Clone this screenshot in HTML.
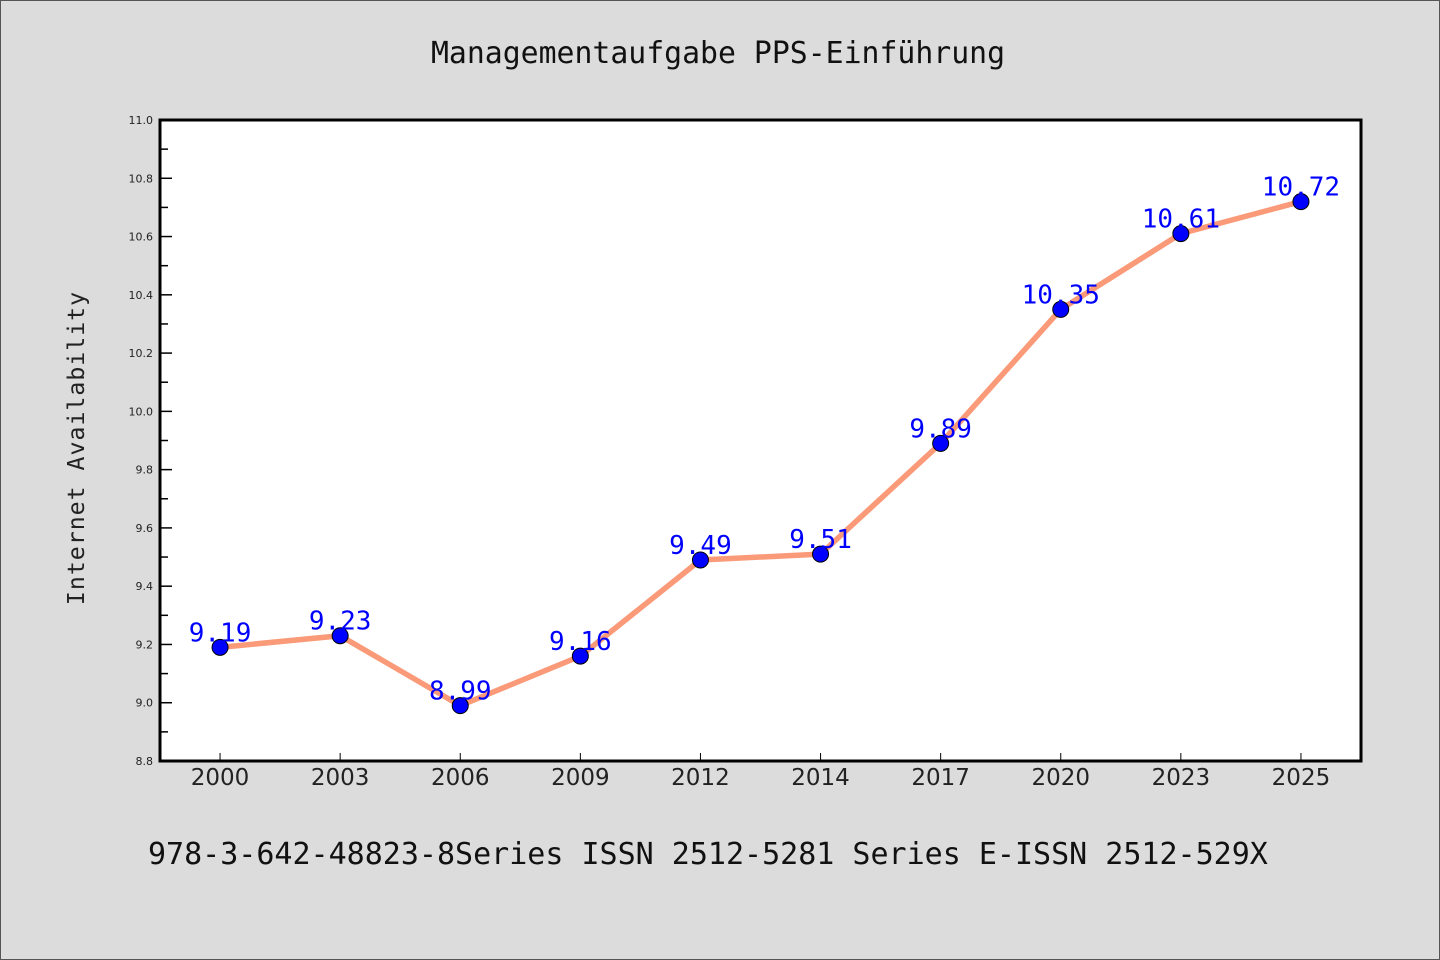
<!DOCTYPE html>
<html><head><meta charset="utf-8"><style>
body{margin:0;background:#dcdcdc}
svg{display:block}
</style></head><body>
<svg width="1440" height="960" xmlns="http://www.w3.org/2000/svg">
<rect x="0.5" y="0.5" width="1439" height="959" fill="#dcdcdc" stroke="#555"/>
<text x="718" y="63" text-anchor="middle" font-family="'WenQuanYi Zen Hei','DejaVu Sans Mono',monospace" font-size="29.8" fill="#111">Managementaufgabe PPS-Einführung</text>
<rect x="160" y="120" width="1201" height="641" fill="#fff"/>
<g id="axes"></g>
<g id="marks"></g>
<rect x="160" y="120" width="1201" height="641" fill="none" stroke="#000" stroke-width="3"/>
<text transform="translate(84,448) rotate(-90)" text-anchor="middle" font-family="'WenQuanYi Zen Hei','DejaVu Sans Mono',monospace" font-size="23.2" fill="#222" letter-spacing="1">Internet Availability</text>
<text x="148" y="864" font-family="'WenQuanYi Zen Hei','DejaVu Sans Mono',monospace" font-size="30" fill="#111">978-3-642-48823-8Series ISSN 2512-5281 Series E-ISSN 2512-529X</text>
</svg>
<script>
const categories=["2000","2003","2006","2009","2012","2014","2017","2020","2023","2025"];
const values=[9.19,9.23,8.99,9.16,9.49,9.51,9.89,10.35,10.61,10.72];
const yTicks=[8.8,9.0,9.2,9.4,9.6,9.8,10.0,10.2,10.4,10.6,10.8,11.0];
const NS="http://www.w3.org/2000/svg";
const L=160,R=1361,T=120,B=761,yMin=8.8,yMax=11.0;
const x=i=>L+(R-L)/categories.length*(i+0.5);
const y=v=>B-(v-yMin)/(yMax-yMin)*(B-T);
function mk(tag,attrs,parent,text){const e=document.createElementNS(NS,tag);for(const k in attrs)e.setAttribute(k,attrs[k]);if(text!=null)e.textContent=text;parent.appendChild(e);return e;}
const axes=document.getElementById('axes'),marks=document.getElementById('marks');
yTicks.forEach((t,i)=>{
  const yy=y(t);
  const ln=mk('line',{x1:L,x2:L+12,y1:yy,y2:yy,stroke:'#000','stroke-width':1.5},axes);
  
  
  const tx=mk('text',{x:L-7,y:yy+4,'text-anchor':'end','font-family':'DejaVu Sans,sans-serif','font-size':11,fill:'#222'},axes,t.toFixed(1));
  
  
  if(i<yTicks.length-1){const m=y(t+0.1);
    const mn=mk('line',{x1:L,x2:L+8,y1:m,y2:m,stroke:'#000','stroke-width':1.5},axes);
    
    }
});
categories.forEach((c,i)=>{
  const xx=x(i);
  const ln=mk('line',{x1:xx,x2:xx,y1:B,y2:B-8,stroke:'#000','stroke-width':1},axes);
  
  
  const tx=mk('text',{x:xx,y:B+24,'text-anchor':'middle','font-family':'DejaVu Sans,sans-serif','font-size':23,fill:'#222'},axes,c);
  
  
});
const pl=mk('polyline',{points:values.map((v,i)=>x(i)+','+y(v)).join(' '),fill:'none',stroke:'#fa9a78','stroke-width':5.5,'stroke-linejoin':'round'},marks);


values.forEach((v,i)=>{
  const c=mk('circle',{cx:x(i),cy:y(v),r:8,fill:'#0000ff',stroke:'#000','stroke-width':1},marks);
  
  
});
values.forEach((v,i)=>{
  const t=mk('text',{x:x(i),y:y(v)-6,'text-anchor':'middle','font-family':"'WenQuanYi Zen Hei','DejaVu Sans Mono',monospace",'font-size':26,fill:'#0000ff'},marks,v.toFixed(2));
  
  
});
</script>
</body></html>
